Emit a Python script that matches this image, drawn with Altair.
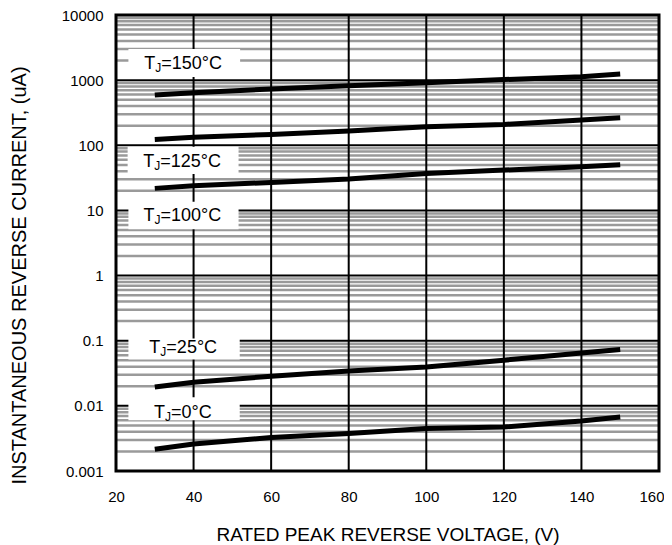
import altair as alt
import pandas as pd

# ---- data ----
voltage = [30, 40, 60, 80, 100, 120, 140, 150]
i_150 = [590, 640, 730, 820, 910, 1020, 1130, 1240]
i_125 = [123, 133, 147, 165, 192, 209, 244, 264]
i_100 = [21.8, 24.0, 26.9, 30.3, 37.0, 41.6, 46.7, 50.1]
i_25 = [0.0195, 0.023, 0.0285, 0.0344, 0.0396, 0.0502, 0.065, 0.0733]
i_0 = [0.00215, 0.0026, 0.00326, 0.00375, 0.00448, 0.00474, 0.00586, 0.00675]

x_ticks = [20, 40, 60, 80, 100, 120, 140, 160]
y_decades = [0.001, 0.01, 0.1, 1, 10, 100, 1000, 10000]

label_temps = ["150", "125", "100", "25", "0"]
label_x = [27.3, 27.0, 27.1, 28.6, 29.8]
label_base = [1466, 46.8, 6.92, 0.065, 0.00646]
box_x0 = [23.2, 23.0, 23.2, 23.2, 23.2]
box_x1 = [52.0, 51.6, 51.6, 51.9, 51.9]
box_lo = [1116, 36.1, 5.16, 0.0514, 0.00601]
box_hi = [3006, 94.8, 13.6, 0.108, 0.01355]

W, H = 543, 456
FONT = "Liberation Sans"

xscale = alt.Scale(domain=[20, 160], nice=False, zero=False)
yscale = alt.Scale(type="log", domain=[0.001, 10000], nice=False)

xaxis = alt.Axis(values=x_ticks, title="RATED PEAK REVERSE VOLTAGE, (V)",
                 grid=False, ticks=False, domain=False, labelPadding=18, labelFlush=False,
                 labelAlign=alt.ConditionalAxisLabelAlign(
                     condition={"test": "datum.value == 160", "value": "right"}, value="center"),
                 labelOffset=alt.ConditionalAxisNumber(
                     condition={"test": "datum.value == 160", "value": 5}, value=0),
                 titleBaseline="top", titleY=54, titleX=W / 2, titleAlign="center",
                 titleFontSize=19)
yaxis = alt.Axis(values=y_decades, format="~g",
                 title="INSTANTANEOUS REVERSE CURRENT, (uA)",
                 grid=False, ticks=False, domain=False, labelPadding=13, labelFlush=False,
                 titleAngle=270, titleBaseline="middle", titleAlign="center",
                 titleX=-97, titleY=260, titleFontSize=20)

rows = []
for name, vals in zip(label_temps, [i_150, i_125, i_100, i_25, i_0]):
    for v, c in zip(voltage, vals):
        rows.append({"series": name, "V": v, "I": c})
lines_df = pd.DataFrame(rows)

minor = []
for d in y_decades[:-1]:
    for k in range(2, 10):
        minor.append(d * k)
minor_df = pd.DataFrame({"v": minor})
major_df = pd.DataFrame({"v": y_decades[1:-1]})
vert_df = pd.DataFrame({"v": x_ticks[1:-1]})

lab_df = pd.DataFrame({
    "temp": label_temps, "x": label_x, "y": label_base,
    "bx0": box_x0, "bx1": box_x1, "blo": box_lo, "bhi": box_hi,
})
lab_df["t"] = "T"
lab_df["j"] = "J"
lab_df["rest"] = "=" + lab_df["temp"] + "°C"


def X(field):
    return alt.X(field, scale=xscale, axis=xaxis)


def Y(field):
    return alt.Y(field, scale=yscale, axis=yaxis)


minor_layer = alt.Chart(minor_df).mark_rule(color="#9a9a9a", strokeWidth=2.5).encode(y=Y("v:Q"))
major_layer = alt.Chart(major_df).mark_rule(color="black", strokeWidth=2).encode(y=Y("v:Q"))
vert_layer = alt.Chart(vert_df).mark_rule(color="black", strokeWidth=2).encode(x=X("v:Q"))
box_layer = alt.Chart(lab_df).mark_rect(color="white").encode(
    x=X("bx0:Q"), x2="bx1:Q", y=Y("blo:Q"), y2="bhi:Q",
)
line_layer = alt.Chart(lines_df).mark_line(color="black", strokeWidth=5, strokeCap="butt").encode(
    x=X("V:Q"), y=Y("I:Q"), detail="series:N",
)
t_layer = alt.Chart(lab_df).mark_text(align="left", baseline="alphabetic", fontSize=18,
                                      font=FONT, color="black").encode(
    x=X("x:Q"), y=Y("y:Q"), text="t:N"
)
j_layer = alt.Chart(lab_df).mark_text(align="left", baseline="alphabetic", fontSize=12,
                                      font=FONT, color="black", dx=11, dy=3).encode(
    x=X("x:Q"), y=Y("y:Q"), text="j:N"
)
r_layer = alt.Chart(lab_df).mark_text(align="left", baseline="alphabetic", fontSize=18,
                                      font=FONT, color="black", dx=17).encode(
    x=X("x:Q"), y=Y("y:Q"), text="rest:N"
)
border = alt.Chart(pd.DataFrame({"a": [0]})).mark_rect(
    filled=False, stroke="black", strokeWidth=3
).encode(x=alt.value(0), x2=alt.value(W), y=alt.value(0), y2=alt.value(H))

chart = alt.layer(
    minor_layer, major_layer, vert_layer, box_layer, line_layer,
    t_layer, j_layer, r_layer, border
).properties(
    width=W, height=H,
    autosize=alt.AutoSizeParams(type="none"),
    padding={"left": 108, "top": 7, "right": 5, "bottom": 74},
).configure_view(stroke=None).configure_axis(
    labelFont=FONT, titleFont=FONT, labelFontSize=15,
    labelColor="black", titleColor="black", titleFontWeight="normal",
)

chart.save("out.html", embed_options={"renderer": "svg", "actions": False})
